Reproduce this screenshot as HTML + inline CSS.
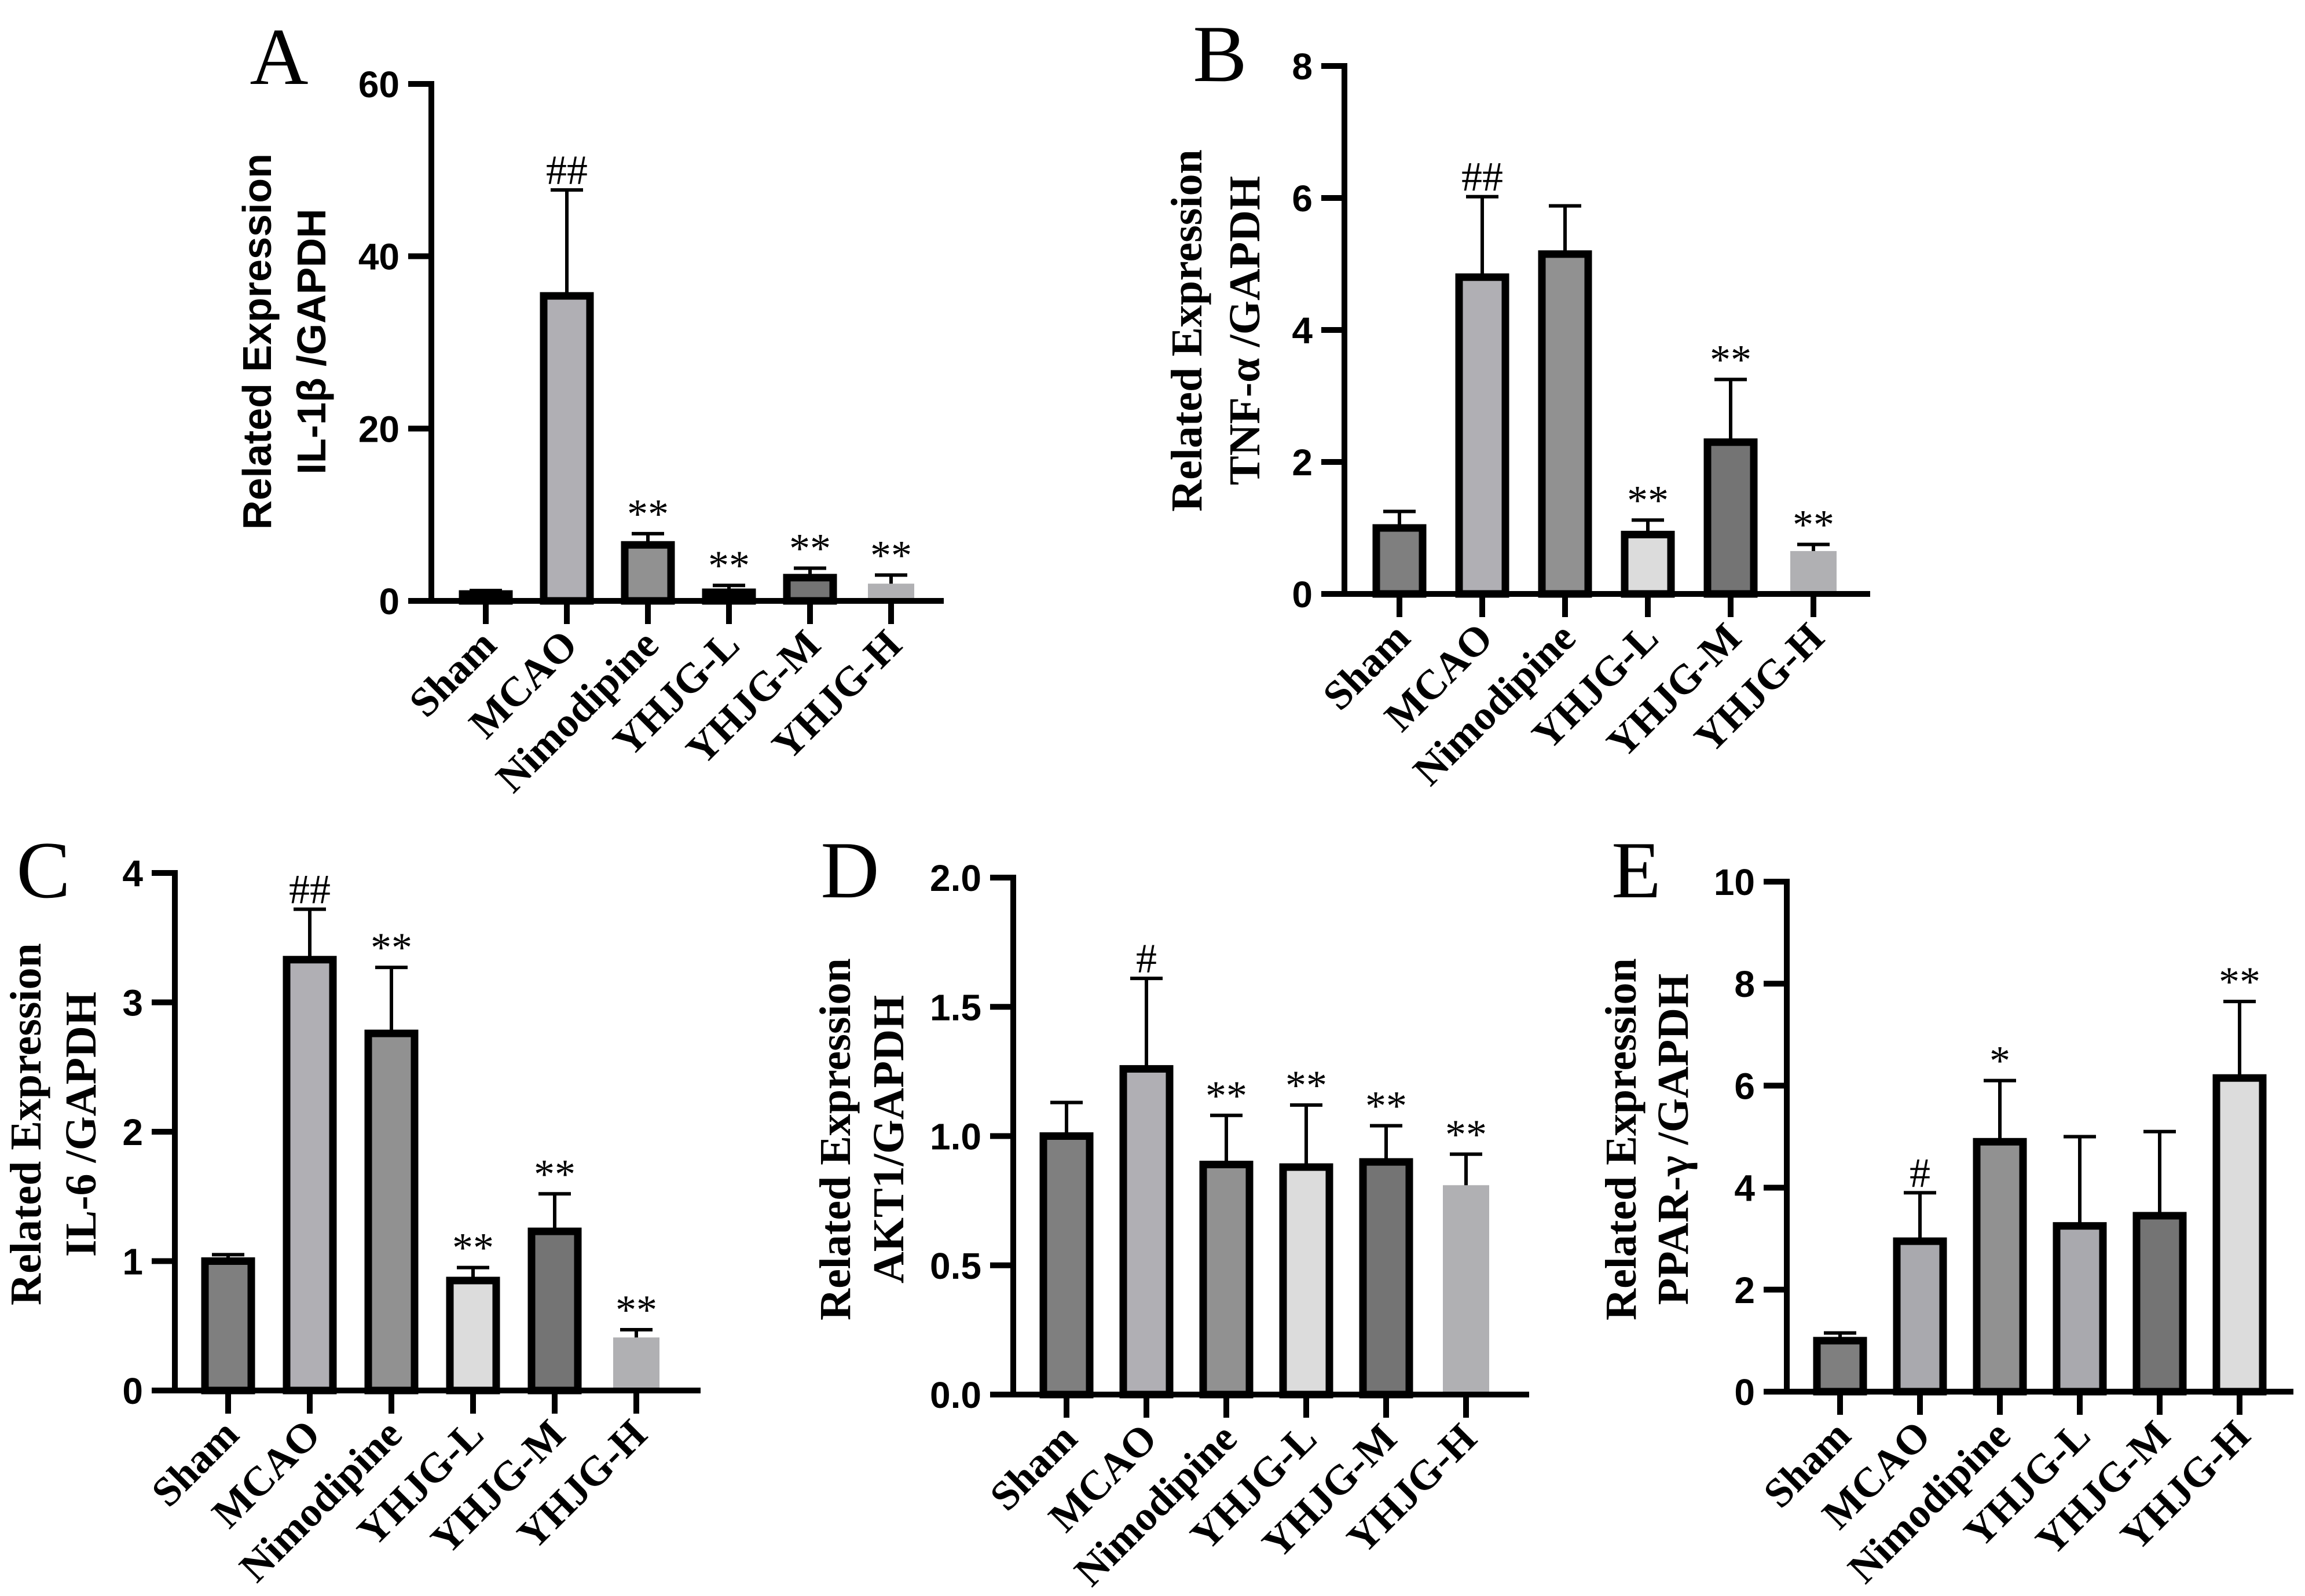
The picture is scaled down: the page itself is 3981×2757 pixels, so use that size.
<!DOCTYPE html>
<html><head><meta charset="utf-8">
<style>
html,body{margin:0;padding:0;background:#fff;}
svg{display:block;}
</style></head>
<body>
<svg id="fig" width="3981" height="2757" viewBox="0 0 3981 2757" xmlns="http://www.w3.org/2000/svg">
</svg>
<script>
const categories = ["Sham","MCAO","Nimodipine","YHJG-L","YHJG-M","YHJG-H"];
const aValues = [0.8, 35.4, 6.5, 1.0, 2.7, 2.0];
const aErrors = [1.2, 47.7, 7.8, 1.8, 3.8, 3.0];
const aMarks = ["", "##", "**", "**", "**", "**"];
const aTicks = [0, 20, 40, 60];
const bValues = [1.0, 4.8, 5.15, 0.9, 2.3, 0.65];
const bErrors = [1.25, 6.02, 5.88, 1.12, 3.25, 0.75];
const bMarks = ["", "##", "", "**", "**", "**"];
const bTicks = [0, 2, 4, 6, 8];
const cValues = [1.0, 3.33, 2.76, 0.85, 1.23, 0.41];
const cErrors = [1.05, 3.72, 3.27, 0.95, 1.52, 0.47];
const cMarks = ["", "##", "**", "**", "**", "**"];
const cTicks = [0, 1, 2, 3, 4];
const dValues = [1.0, 1.26, 0.89, 0.88, 0.9, 0.81];
const dErrors = [1.13, 1.61, 1.08, 1.12, 1.04, 0.93];
const dMarks = ["", "#", "**", "**", "**", "**"];
const dTicks = ["0.0", "0.5", "1.0", "1.5", "2.0"];
const eValues = [1.0, 2.95, 4.9, 3.25, 3.45, 6.15];
const eErrors = [1.15, 3.9, 6.1, 5.0, 5.1, 7.65];
const eMarks = ["", "#", "*", "", "", "**"];
const eTicks = [0, 2, 4, 6, 8, 10];

const NS = "http://www.w3.org/2000/svg";
const svg = document.getElementById("fig");
function mk(tag, attrs, parent, text){
  const e = document.createElementNS(NS, tag);
  for (const k in attrs) e.setAttribute(k, attrs[k]);
  if (text !== undefined) e.textContent = text;
  (parent || svg).appendChild(e);
  return e;
}
const SANS = '"Liberation Sans", Arial, sans-serif';
const SERIF = '"Liberation Serif", "Times New Roman", serif';

function panel(cfg){
  const g = mk("g", {});
  
  
  const ticks = cfg.ticks.map(Number);
  const yMax = ticks[ticks.length-1];
  const y = v => cfg.y0 - (v / yMax) * (cfg.y0 - cfg.yTop);
  const x = i => cfg.x1 + i * cfg.step;
  const L = mk("text", {x: cfg.lx, y: cfg.ly, "font-family": SERIF, "font-size": 140, "text-anchor":"middle", fill:"#000"}, g, cfg.letter);
  
  
  const tf = cfg.sansTitle ? SANS : SERIF;
  const ts = cfg.sansTitle ? 70 : 76;
  const t1 = mk("text", {transform:`translate(${cfg.tx1},${cfg.tyc}) rotate(-90)`, "font-family": tf, "font-weight":"bold", "font-size":ts, "text-anchor":"middle"}, g, "Related Expression");
  
  
  const t2 = mk("text", {transform:`translate(${cfg.tx2},${cfg.tyc}) rotate(-90)`, "font-family": tf, "font-weight":"bold", "font-size":ts, "text-anchor":"middle", "xml:space":"preserve"}, g, cfg.title2);
  
  
  cfg.values.forEach((v, i) => {
    const cx = x(i), w = 80;
    const top = y(v), bot = cfg.y0;
    const noBorder = cfg.noBorder[i];
    const r = mk("rect", {x: cx - w/2, y: top, width: w, height: Math.max(0, bot - top), fill: cfg.colors[i], stroke: noBorder ? "none" : "#000", "stroke-width": noBorder ? 0 : 13}, g);
    
    
    const et = y(cfg.errors[i]);
    const el = mk("path", {d:`M${cx},${top} V${et} M${cx-28},${et} H${cx+28}`, stroke:"#000", "stroke-width":6, fill:"none"}, g);
    
    
    if (cfg.marks[i]) {
      const m = mk("text", {x: cx, y: et - 10, "font-family": SERIF, "font-size": 72, "text-anchor":"middle"}, g, cfg.marks[i]);
      
      
    }
    const tk = mk("line", {x1: cx, x2: cx, y1: cfg.y0, y2: cfg.y0 + 40, stroke:"#000", "stroke-width":10}, g);
    
    
    const lb = mk("text", {transform:`translate(${cx + 22},${cfg.y0 + 80}) rotate(-45)`, "font-family": SERIF, "font-weight":"bold", "font-size":72, "text-anchor":"end"}, g, categories[i]);
    
    
  });
  const ya = mk("line", {x1: cfg.ax, x2: cfg.ax, y1: cfg.yTop - 5, y2: cfg.y0 + 5, stroke:"#000", "stroke-width":10}, g);
  
  
  const xa = mk("line", {x1: cfg.ax - 40, x2: cfg.xEnd, y1: cfg.y0, y2: cfg.y0, stroke:"#000", "stroke-width":10}, g);
  
  
  cfg.ticks.forEach(t => {
    const yy = y(Number(t));
    const tl = mk("line", {x1: cfg.ax - 40, x2: cfg.ax, y1: yy, y2: yy, stroke:"#000", "stroke-width":10}, g);
    
    
    const tt = mk("text", {x: cfg.ax - 55, y: yy + 23, "font-family": SANS, "font-weight":"bold", "font-size":64, "text-anchor":"end"}, g, String(t));
    
    
  });
}

const C1 = ["#7f7f7f","#b0afb4","#919191","#dcdcdc","#747474","#b0b0b3"];
panel({letter:"A", lx:482, ly:145, sansTitle:true, title2:"IL-1β /GAPDH", tx1:468, tx2:562, tyc:590,
  ax:745, yTop:145, y0:1038, x1:839, step:140, xEnd:1630,
  ticks:aTicks, values:aValues, errors:aErrors, marks:aMarks,
  colors:["#000","#b0afb4","#919191","#000","#747474","#b0b0b3"], noBorder:[false,false,false,false,false,true]});
panel({letter:"B", lx:2107, ly:140, sansTitle:false, title2:"TNF-α  /GAPDH", tx1:2075, tx2:2175, tyc:571,
  ax:2322, yTop:114, y0:1026, x1:2417, step:143, xEnd:3230,
  ticks:bTicks, values:bValues, errors:bErrors, marks:bMarks,
  colors:C1, noBorder:[false,false,false,false,false,true]});
panel({letter:"C", lx:75, ly:1550, sansTitle:false, title2:"IL-6  /GAPDH", tx1:70, tx2:165, tyc:1942,
  ax:302, yTop:1508, y0:2402, x1:394, step:141, xEnd:1210,
  ticks:cTicks, values:cValues, errors:cErrors, marks:cMarks,
  colors:C1, noBorder:[false,false,false,false,false,true]});
panel({letter:"D", lx:1468, ly:1550, sansTitle:false, title2:"AKT1/GAPDH", tx1:1468, tx2:1560, tyc:1968,
  ax:1750, yTop:1516, y0:2409, x1:1842, step:138, xEnd:2641,
  ticks:dTicks, values:dValues, errors:dErrors, marks:dMarks,
  colors:C1, noBorder:[false,false,false,false,false,true]});
panel({letter:"E", lx:2826, ly:1550, sansTitle:false, title2:"PPAR-γ /GAPDH", tx1:2825, tx2:2915, tyc:1968,
  ax:3086, yTop:1523, y0:2404, x1:3178, step:138, xEnd:3961,
  ticks:eTicks, values:eValues, errors:eErrors, marks:eMarks,
  colors:["#7f7f7f","#a9a9ae","#919191","#a9a9ae","#747474","#dcdcdc"], noBorder:[false,false,false,false,false,false]});
</script>
</body></html>
